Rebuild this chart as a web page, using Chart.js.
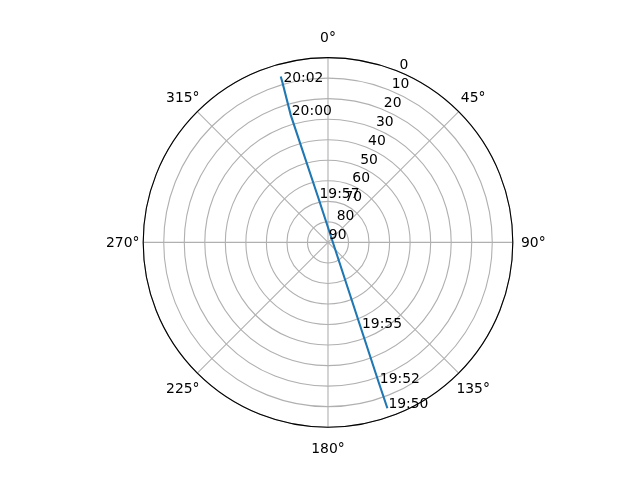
<!DOCTYPE html>
<html><head><meta charset="utf-8">
<script src="https://cdn.jsdelivr.net/npm/chart.js@4.4.0/dist/chart.umd.min.js"></script>
<style>html,body{margin:0;padding:0;background:#fff;}#wrap{width:640px;height:480px;}</style>
</head><body><div id="wrap"><canvas id="c" width="640" height="480"></canvas></div>
<script>
// Satellite pass: time labels, azimuth (deg, clockwise from north), elevation (deg)
const passTimes = ['19:50', '19:52', '19:55', '19:57', '20:00', '20:02', ''];
const azimuthDeg = [160.3, 160.1, 159.0, 347.8, 343.7, 344.1, 344.1];
const elevationDeg = [4.2, 17.3, 45.2, 68.0, 25.4, 8.9, 6.0];

const angleTicks = [0, 45, 90, 135, 180, 225, 270, 315];
const angleTickLabels = ['0°', '45°', '90°', '135°', '180°', '225°', '270°', '315°'];
const elevationTicks = [0, 10, 20, 30, 40, 50, 60, 70, 80, 90];
const elevationTickLabels = ['0', '10', '20', '30', '40', '50', '60', '70', '80', '90'];
const rlabelAngle = 22.5;

const FONT = '13.9px "DejaVu Sans"';

function toXY(az, el) {
  const r = 90 - el;
  const a = az * Math.PI / 180;
  return { x: r * Math.sin(a), y: r * Math.cos(a) };
}

const points = azimuthDeg.map((az, i) => toXY(az, elevationDeg[i]));

function px(chart, r, angDeg) {
  const a = angDeg * Math.PI / 180;
  return {
    x: chart.scales.x.getPixelForValue(r * Math.sin(a)),
    y: chart.scales.y.getPixelForValue(r * Math.cos(a))
  };
}

const polarPlugin = {
  id: 'polarGrid',
  beforeDatasetsDraw(chart) {
    const ctx = chart.ctx;
    const c = px(chart, 0, 0);
    ctx.save();
    ctx.strokeStyle = '#b0b0b0';
    ctx.lineWidth = 1.1;
    elevationTicks.forEach(el => {
      const r = 90 - el;
      if (r <= 0) return;
      const rad = chart.scales.x.getPixelForValue(r) - c.x;
      ctx.beginPath();
      ctx.arc(c.x, c.y, rad, 0, Math.PI * 2);
      ctx.stroke();
    });
    angleTicks.forEach(a => {
      const p = px(chart, 90, a);
      ctx.beginPath();
      ctx.moveTo(c.x, c.y);
      ctx.lineTo(p.x, p.y);
      ctx.stroke();
    });
    ctx.restore();
  },
  afterDatasetsDraw(chart) {
    const ctx = chart.ctx;
    const c = px(chart, 0, 0);
    const R = chart.scales.x.getPixelForValue(90) - c.x;
    ctx.save();
    ctx.strokeStyle = '#000';
    ctx.lineWidth = 1.1;
    ctx.beginPath();
    ctx.arc(c.x, c.y, R, 0, Math.PI * 2);
    ctx.stroke();

    ctx.fillStyle = '#000';
    ctx.font = FONT;
    ctx.textAlign = 'center';
    ctx.textBaseline = 'alphabetic';
    angleTicks.forEach((a, i) => {
      const rad = a * Math.PI / 180;
      const x = c.x + (R + 20.5) * Math.sin(rad);
      const y = c.y - (R + 20.5) * Math.cos(rad);
      ctx.fillText(angleTickLabels[i], x, y + 5);
    });
    ctx.textAlign = 'left';
    elevationTicks.forEach((el, i) => {
      const p = px(chart, 90 - el, rlabelAngle);
      ctx.fillText(elevationTickLabels[i], p.x + 0.8, p.y - 3);
    });
    passTimes.forEach((t, i) => {
      if (!t) return;
      const p = px(chart, 90 - elevationDeg[i], azimuthDeg[i]);
      ctx.fillText(t, p.x + 1, p.y);
    });
    ctx.restore();
  }
};

new Chart(document.getElementById('c'), {
  type: 'scatter',
  data: {
    datasets: [{
      data: points,
      showLine: true,
      borderColor: '#1f77b4',
      backgroundColor: '#1f77b4',
      borderWidth: 2.1,
      pointRadius: 0,
      tension: 0,
      fill: false
    }]
  },
  options: {
    responsive: false,
    animation: false,
    layout: { padding: { left: 143.2, right: 127.2, top: 57.6, bottom: 52.8 } },
    scales: {
      x: { type: 'linear', min: -90, max: 90, display: false },
      y: { type: 'linear', min: -90, max: 90, display: false }
    },
    plugins: { legend: { display: false }, tooltip: { enabled: false } }
  },
  plugins: [polarPlugin]
});
</script>
</body></html>
